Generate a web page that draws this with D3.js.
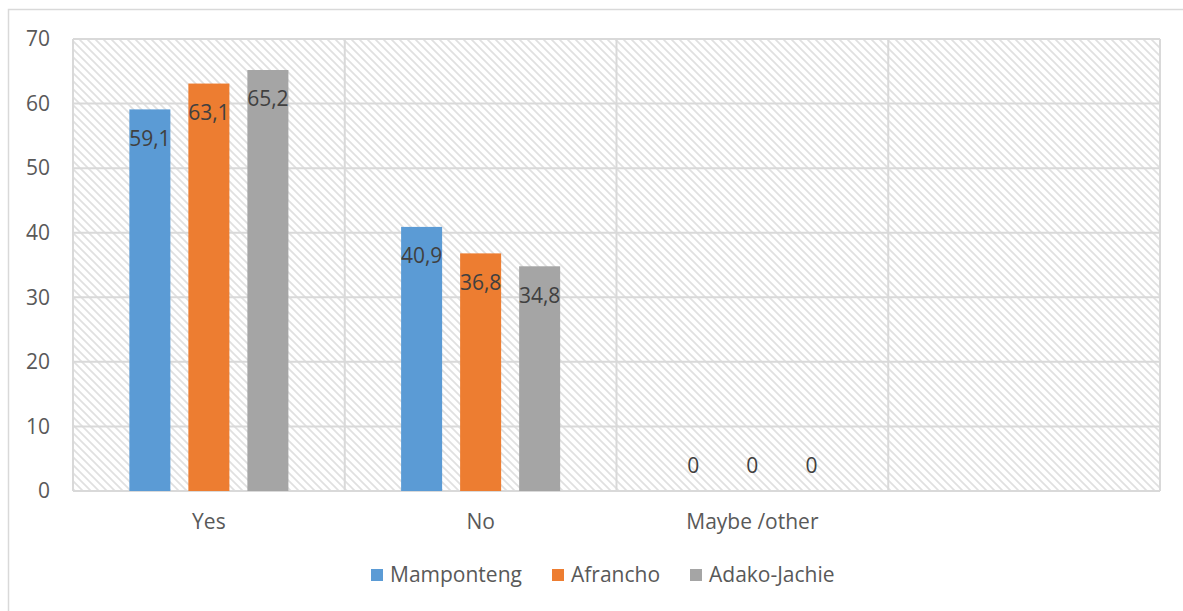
<!DOCTYPE html>
<html>
<head>
<meta charset="utf-8">
<script src="https://cdn.jsdelivr.net/npm/d3@7"></script>
<style>
  body { margin: 0; background: #fff; }
  svg { font-family: "Open Sans", Lato, sans-serif; }
</style>
</head>
<body>
<svg id="chart" width="1183" height="611"></svg>
<script>
// Categories (4th slot is empty in the original)
var categories = ['Yes', 'No', 'Maybe /other', ''];
var seriesNames = ['Mamponteng', 'Afrancho', 'Adako-Jachie'];
var seriesColors = ['#5b9bd5', '#ed7d31', '#a5a5a5'];
var mamponteng = [59.1, 40.9, 0];
var afrancho = [63.1, 36.8, 0];
var adakoJachie = [65.2, 34.8, 0];
var yTicks = [0, 10, 20, 30, 40, 50, 60, 70];

var svg = d3.select('#chart');
var plot = {left: 73, right: 1160, top: 39, bottom: 491};
var fontSize = 21;

//Outer chart frame (runs off the page on right and bottom)
svg.append('rect')
    .attr('x', 8.5).attr('y', 9.5)
    .attr('width', 1200).attr('height', 700)
    .attr('fill', 'none')
    .attr('stroke', '#d9d9d9')
    .attr('stroke-width', 1.5);

//Hatched background pattern
var defs = svg.append('defs');
var pat = defs.append('pattern')
    .attr('id', 'hatch')
    .attr('patternUnits', 'userSpaceOnUse')
    .attr('width', 8).attr('height', 8);
pat.append('rect').attr('width', 8).attr('height', 8).attr('fill', '#fff');
pat.append('path')
    .attr('d', 'M-2,-2 L10,10 M-2,6 L2,10 M6,-2 L10,2')
    .attr('stroke', '#e0e0e0')
    .attr('stroke-width', 1.7);

var x = d3.scaleBand()
    .domain(d3.range(categories.length))
    .range([plot.left, plot.right]);

var y = d3.scaleLinear()
    .domain([0, 70])
    .range([plot.bottom, plot.top]);

var inner = d3.scaleBand()
    .domain(d3.range(seriesNames.length))
    .range([0, x.bandwidth()])
    .paddingInner(0.305)
    .paddingOuter(0.955);

svg.append('rect')
    .attr('x', plot.left).attr('y', plot.top)
    .attr('width', plot.right - plot.left)
    .attr('height', plot.bottom - plot.top)
    .attr('fill', 'url(#hatch)');

//Horizontal gridlines
svg.append('g')
    .selectAll('line')
    .data(yTicks)
    .enter()
    .append('line')
    .attr('x1', plot.left).attr('x2', plot.right)
    .attr('y1', function(d) { return y(d); })
    .attr('y2', function(d) { return y(d); })
    .attr('stroke', '#d9d9d9')
    .attr('stroke-width', 2);

//Vertical category separators
svg.append('g')
    .selectAll('line')
    .data(d3.range(categories.length + 1))
    .enter()
    .append('line')
    .attr('x1', function(i) { return plot.left + i * x.step(); })
    .attr('x2', function(i) { return plot.left + i * x.step(); })
    .attr('y1', plot.top).attr('y2', plot.bottom)
    .attr('stroke', '#d9d9d9')
    .attr('stroke-width', 2);

//Y axis labels
var yAxis = d3.axisLeft(y).tickValues(yTicks).tickSize(0).tickPadding(0);
var yg = svg.append('g')
    .attr('transform', 'translate(50,0)')
    .call(yAxis);
yg.select('.domain').remove();
yg.selectAll('text')
    .attr('font-size', fontSize)
    .attr('font-family', '"Open Sans", sans-serif')
    .attr('fill', '#595959');

//X axis labels
var xAxis = d3.axisBottom(x).tickFormat(function(i) { return categories[i]; }).tickSize(0).tickPadding(0);
var xg = svg.append('g')
    .attr('transform', 'translate(0,' + (plot.bottom + 23) + ')')
    .call(xAxis);
xg.select('.domain').remove();
xg.selectAll('text')
    .attr('font-size', fontSize)
    .attr('font-family', '"Open Sans", sans-serif')
    .attr('fill', '#595959');

var series = [mamponteng, afrancho, adakoJachie];
var rows = [];
series.forEach(function(vals, s) {
    vals.forEach(function(v, c) {
        rows.push({s: s, c: c, v: v});
    });
});

//Bars
svg.append('g')
    .selectAll('rect')
    .data(rows.filter(function(d) { return d.v > 0; }))
    .enter()
    .append('rect')
    .attr('x', function(d) { return x(d.c) + inner(d.s); })
    .attr('y', function(d) { return y(d.v); })
    .attr('width', inner.bandwidth())
    .attr('height', function(d) { return y(0) - y(d.v); })
    .attr('fill', function(d) { return seriesColors[d.s]; });

//Data labels (sit a little below the bar top, zeros above the baseline)
svg.append('g')
    .selectAll('text')
    .data(rows)
    .enter()
    .append('text')
    .attr('x', function(d) { return x(d.c) + inner(d.s) + inner.bandwidth() / 2; })
    .attr('y', function(d) { return d.v > 0 ? y(d.v) + 29 : y(0) - 25.5; })
    .attr('dy', '0.35em')
    .attr('text-anchor', 'middle')
    .attr('font-size', fontSize)
    .attr('fill', '#404040')
    .text(function(d) { return String(d.v).replace('.', ','); });

//Legend
var legendX = [371, 552, 690];
var lg = svg.append('g').attr('transform', 'translate(0,575)');
var items = lg.selectAll('g')
    .data(seriesNames)
    .enter()
    .append('g')
    .attr('transform', function(d, i) { return 'translate(' + legendX[i] + ',0)'; });
items.append('rect')
    .attr('x', 0).attr('y', -6)
    .attr('width', 12).attr('height', 12)
    .attr('fill', function(d, i) { return seriesColors[i]; });
items.append('text')
    .attr('x', 19)
    .attr('dy', '0.35em')
    .attr('font-size', fontSize)
    .attr('fill', '#595959')
    .text(function(d) { return d; });
</script>
</body>
</html>
